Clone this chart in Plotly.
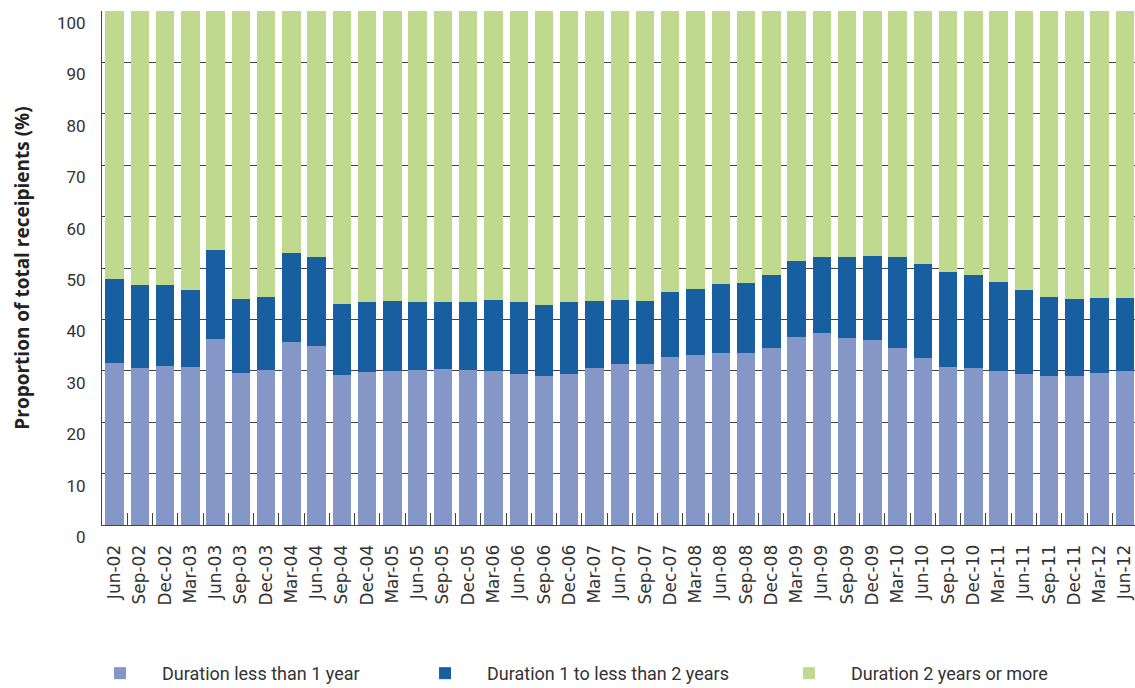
import plotly.graph_objects as go

# Quarters (Jun-02 to Jun-12)
quarters = ['Jun-02', 'Sep-02', 'Dec-02', 'Mar-03', 'Jun-03', 'Sep-03', 'Dec-03',
            'Mar-04', 'Jun-04', 'Sep-04', 'Dec-04', 'Mar-05', 'Jun-05', 'Sep-05',
            'Dec-05', 'Mar-06', 'Jun-06', 'Sep-06', 'Dec-06', 'Mar-07', 'Jun-07',
            'Sep-07', 'Dec-07', 'Mar-08', 'Jun-08', 'Sep-08', 'Dec-08', 'Mar-09',
            'Jun-09', 'Sep-09', 'Dec-09', 'Mar-10', 'Jun-10', 'Sep-10', 'Dec-10',
            'Mar-11', 'Jun-11', 'Sep-11', 'Dec-11', 'Mar-12', 'Jun-12']

# Share of receipients by duration on payment (%)
less_than_1 = [31.6, 30.5, 30.9, 30.7, 36.1, 29.6, 30.2, 35.6, 34.8, 29.1, 29.8,
               30.0, 30.1, 30.4, 30.2, 30.0, 29.3, 28.9, 29.4, 30.5, 31.3, 31.3,
               32.6, 33.1, 33.5, 33.4, 34.4, 36.6, 37.3, 36.4, 35.9, 34.4, 32.4,
               30.7, 30.5, 29.9, 29.4, 29.0, 29.0, 29.6, 30.0]
one_to_two = [16.2, 16.1, 15.8, 15.0, 17.4, 14.4, 14.1, 17.4, 17.3, 13.8, 13.6,
              13.6, 13.2, 12.9, 13.2, 13.8, 14.0, 13.9, 13.9, 13.1, 12.5, 12.3,
              12.7, 12.9, 13.3, 13.6, 14.2, 14.7, 14.8, 15.8, 16.4, 17.7, 18.4,
              18.6, 18.1, 17.3, 16.4, 15.4, 14.9, 14.6, 14.2]
two_plus = [52.2, 53.4, 53.3, 54.3, 46.5, 56.0, 55.7, 47.0, 47.9, 57.1, 56.6,
            56.4, 56.7, 56.7, 56.6, 56.2, 56.7, 57.2, 56.7, 56.4, 56.2, 56.4,
            54.7, 54.0, 53.2, 53.0, 51.4, 48.7, 47.9, 47.8, 47.7, 47.9, 49.2,
            50.7, 51.4, 52.8, 54.2, 55.6, 56.1, 55.8, 55.8]

series = [
    ('Duration less than 1 year', less_than_1, '#8597C6', 'legend'),
    ('Duration 1 to less than 2 years', one_to_two, '#175FA0', 'legend2'),
    ('Duration 2 years or more', two_plus, '#BFD98F', 'legend3'),
]

fig = go.Figure()
for name, vals, color, leg in series:
    fig.add_trace(go.Bar(x=quarters, y=vals, name=name, legend=leg,
                         marker=dict(color=color, line_width=0)))

legend_font = dict(family='Roboto', size=18, color='#333333')
legend_common = dict(orientation='h', xanchor='left', xref='container', yref='container',
                     y=0.048, yanchor='top', itemwidth=74, font=legend_font,
                     bgcolor='rgba(0,0,0,0)')

fig.update_layout(
    width=1135, height=688,
    barmode='stack', bargap=0.27,
    plot_bgcolor='white', paper_bgcolor='white',
    margin=dict(l=102, r=0, t=11, b=163, autoexpand=False),
    showlegend=True,
    legend=dict(x=0.0687, **legend_common),
    legend2=dict(x=0.3551, **legend_common),
    legend3=dict(x=0.6758, **legend_common),
    xaxis=dict(range=[-0.5, 40.4], showgrid=False, showline=True, linecolor='#444444',
               linewidth=1, ticks='inside', tickson='boundaries', ticklen=12,
               tickcolor='#444444', tickangle=-90, ticklabelstandoff=12, automargin=False,
               tickfont=dict(family='DejaVu Sans', size=17, color='#333333')),
    yaxis=dict(range=[0, 100], dtick=10, showgrid=True, gridcolor='#444444', gridwidth=1,
               showline=True, linecolor='#444444', linewidth=1, zeroline=False,
               layer='below traces', automargin=False,
               ticks='', ticklabelstandoff=12, ticklabelshift=12,
               tickfont=dict(family='Roboto', size=17, color='#333333'),
               title=dict(text='<b>Proportion of total receipients (%)</b>', standoff=22,
                          font=dict(family='Open Sans', size=19, color='#222222'))),
)

# drop the default page margin so the figure sits at the window's top-left corner
fig.write_html("out.html", config={'displayModeBar': False},
               post_script="document.body.style.margin='0';")
